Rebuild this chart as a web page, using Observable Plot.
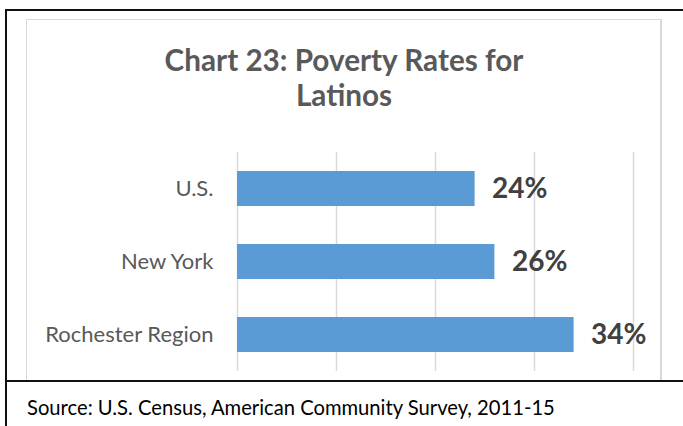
<!DOCTYPE html>
<html>
<head>
<meta charset="utf-8">
<script src="https://cdn.jsdelivr.net/npm/d3@7"></script>
<script src="https://cdn.jsdelivr.net/npm/@observablehq/plot@0.6"></script>
<style>
  html, body { margin: 0; padding: 0; background: #fff; }
  #page { position: relative; width: 683px; height: 426px; overflow: hidden; font-family: Lato, "Open Sans", sans-serif; }
  #outer { position: absolute; left: 5px; top: 9px; width: 700px; height: 430px; border-left: 2px solid #111; border-top: 2px solid #111; box-sizing: border-box; }
  #sep { position: absolute; left: 5px; top: 380px; width: 700px; height: 0; border-top: 2px solid #111; }
  #gray { position: absolute; left: 26px; top: 19px; width: 636px; height: 363px; border: 1px solid #d9d9d9; border-right-width: 2px; box-sizing: border-box; }
  #title { position: absolute; left: 26px; top: 42px; width: 636px; text-align: center; font-weight: bold; font-size: 29.7px; line-height: 35px; color: #595959; }
  #chart { position: absolute; left: 0; top: 140px; }
  #source { position: absolute; left: 27px; top: 395px; font-size: 20.2px; color: #000; white-space: nowrap; }
</style>
</head>
<body>
<div id="page">
  <div id="outer"></div>
  <div id="gray"></div>
  <div id="title">Chart 23: Poverty Rates for<br>Latinos</div>
  <div id="chart"></div>
  <div id="sep"></div>
  <div id="source">Source: U.S. Census, American Community Survey, 2011-15</div>
</div>
<script>
const categories = ["U.S.", "New York", "Rochester Region"];
const rates = [24, 26, 34];
const xTicks = [0, 10, 20, 30, 40];

const data = categories.map((name, i) => ({name, value: rates[i]}));

const chart = Plot.plot({
  width: 683,
  height: 241,
  marginLeft: 237,
  marginRight: 50,
  marginTop: 12,
  marginBottom: 10,
  style: {fontFamily: "Lato, 'Open Sans', sans-serif", background: "transparent", overflow: "visible"},
  x: {domain: [0, 40], axis: null},
  y: {domain: categories, paddingInner: 0.52, paddingOuter: 0.26, label: null},
  marks: [
    Plot.gridX(xTicks, {stroke: "#d9d9d9", strokeOpacity: 1, strokeWidth: 1.5}),
    Plot.barX(data, {x: "value", y: "name", fill: "#5B9BD5"}),
    Plot.text(data, {x: "value", y: "name", text: d => d.value + "%", dx: 17, textAnchor: "start", fontWeight: "bold", fontSize: 28, fill: "#404040"}),
    Plot.axisY({tickSize: 0, tickPadding: 24, fontSize: 22, fill: "#595959", label: null})
  ]
});
document.getElementById("chart").appendChild(chart);
</script>
</body>
</html>
